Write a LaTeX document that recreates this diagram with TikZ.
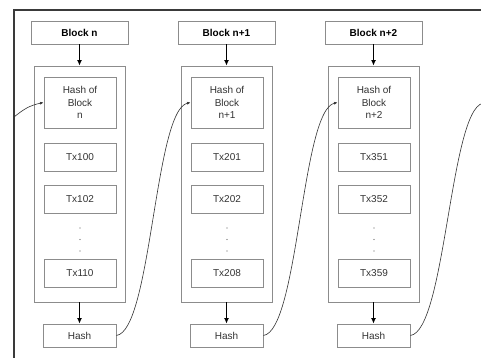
\documentclass[tikz,border=0pt]{standalone}
\usepackage{fontspec}
\setmainfont{Liberation Sans}
\usetikzlibrary{arrows.meta,calc}
\definecolor{boxgray}{HTML}{8C8C8C}
\definecolor{txtgray}{HTML}{333333}
\definecolor{framegray}{HTML}{3A3A3A}
\tikzset{
  blockbox/.style={draw=boxgray,line width=0.9pt,minimum width=97pt,minimum height=23pt,inner sep=0pt,font=\fontsize{10}{12}\selectfont\bfseries,text=black},
  outerbox/.style={draw=boxgray,line width=0.9pt,minimum width=91pt,minimum height=236pt,inner sep=0pt},
  hobbox/.style={draw=boxgray,line width=0.9pt,minimum width=72pt,minimum height=51pt,inner sep=0pt,align=center,font=\fontsize{10}{12.5}\selectfont,text=txtgray},
  txbox/.style={draw=boxgray,line width=0.9pt,minimum width=72pt,minimum height=28pt,inner sep=0pt,font=\fontsize{10}{12}\selectfont,text=txtgray},
  hashbox/.style={draw=boxgray,line width=0.9pt,minimum width=73pt,minimum height=23pt,inner sep=0pt,font=\fontsize{10}{12}\selectfont,text=txtgray},
  downarrow/.style={draw=black,line width=1pt,-{Latex[length=5.5pt,width=5pt]}},
  linkarrow/.style={draw=txtgray,line width=0.6pt,-{Latex[length=3.5pt,width=3pt]}},
  frameline/.style={draw=framegray,line width=1.4pt},
  vdot/.style={fill=txtgray!80,circle,inner sep=0pt,minimum size=1.3pt}
}
\begin{document}
\begin{tikzpicture}[x=1pt,y=-1pt]
\clip (0,0) rectangle (481,358);
\fill[white] (0,0) rectangle (481,358);
% frame
\coordinate (ftl) at (14,10);
\coordinate (fbl) at (14,358);
\coordinate (ftr) at (481,10);
\draw[frameline] (fbl) -- (ftl) -- (ftr);
% columns
\foreach \i/\dx/\bl/\hb/\ta/\tb/\tc in {1/0/Block n/n/Tx100/Tx102/Tx110, 2/147/Block n+1/n+1/Tx201/Tx202/Tx208, 3/294/Block n+2/n+2/Tx351/Tx352/Tx359}{
  \node[blockbox] (blk\i) at (79.5+\dx,32.5) {\bl};
  \node[outerbox] (out\i) at (79.5+\dx,184) {};
  \node[hobbox] (hob\i) at (80+\dx,102.5) {Hash of\\Block\\\hb};
  \node[txbox] (txa\i) at (80+\dx,157) {\ta};
  \node[txbox] (txb\i) at (80+\dx,199) {\tb};
  \node[vdot] (da\i) at (80+\dx,228) {};
  \node[vdot] (db\i) at (80+\dx,239.5) {};
  \node[vdot] (dc\i) at (80+\dx,251) {};
  \node[txbox] (txc\i) at (80+\dx,273) {\tc};
  \node[hashbox] (hash\i) at (79.5+\dx,335.5) {Hash};
  \draw[downarrow] (blk\i.south) -- (out\i.north);
  \draw[downarrow] (out\i.south) -- (hash\i.north);
}
% links
\coordinate (inleft) at (14,117);
\draw[linkarrow] (inleft) .. controls +(10,-8) and +(-14,3) .. (hob1.west);
\draw[linkarrow] (hash1.east) .. controls +(35,-5) and +(-36,8) .. (hob2.west);
\draw[linkarrow] (hash2.east) .. controls +(35,-5) and +(-36,8) .. (hob3.west);
\coordinate (outright) at (486,102.5);
\draw[linkarrow] (hash3.east) .. controls +(35,-5) and +(-36,8) .. (outright);
\end{tikzpicture}
\end{document}
